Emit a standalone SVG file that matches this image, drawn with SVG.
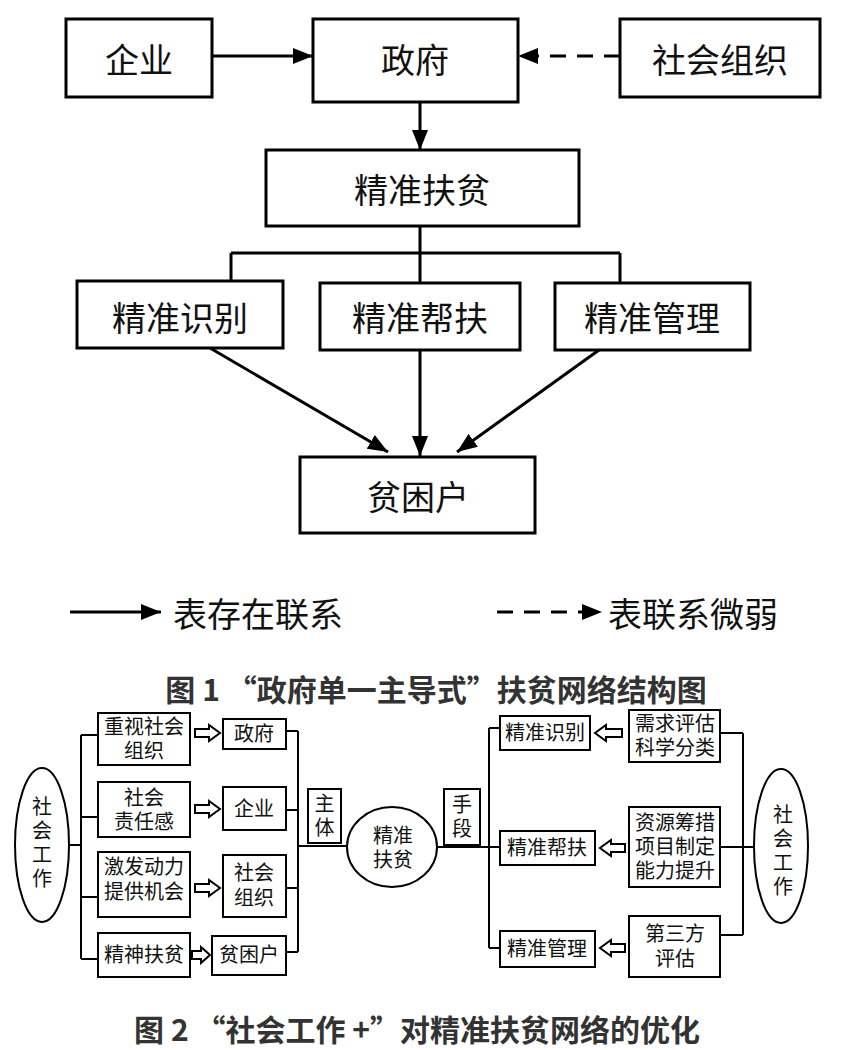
<svg xmlns="http://www.w3.org/2000/svg" width="846" height="1050" viewBox="0 0 846 1050">
<style>
.bg{fill:#fff}
.b1{fill:#fff;stroke:#000;stroke-width:3}
.b2{fill:#fff;stroke:#000;stroke-width:2}
.ln1{fill:none;stroke:#000;stroke-width:3}
.ln2{fill:none;stroke:#000;stroke-width:2}
.dash{stroke-dasharray:16 11}
.ha{fill:#fff;stroke:#000;stroke-width:2;stroke-linejoin:miter}
text{font-family:"Noto Sans CJK SC","Noto Sans CJK JP",sans-serif;fill:#111;dominant-baseline:central;text-anchor:middle}
.t1{font-size:34px}
.t2{font-size:20px;font-family:"Liberation Sans","Noto Sans CJK SC","Noto Sans CJK JP",sans-serif}
.lg{font-size:34px;text-anchor:start}
.cap{font-size:30px;font-weight:bold;fill:#333}
</style>
<defs>
<marker id="ah" viewBox="0 0 20 16" refX="20" refY="8" markerWidth="20" markerHeight="16" markerUnits="userSpaceOnUse" orient="auto">
<path d="M0,0 L20,8 L0,16 Z" fill="#000"/>
</marker>
</defs>
<rect class="bg" x="0" y="0" width="846" height="1050"/>

<!-- Figure 1 connectors -->
<g id="connectors-fig1">
<line class="ln1" x1="212" y1="56" x2="313" y2="56" marker-end="url(#ah)"/>
<line class="ln1 dash" x1="620" y1="56" x2="518" y2="56" marker-end="url(#ah)"/>
<line class="ln1" x1="420" y1="102" x2="420" y2="150" marker-end="url(#ah)"/>
<path class="ln1" d="M420,226 V253 M231,253 H620 M231,253 V281 M420,253 V283 M620,253 V283"/>
<line class="ln1" x1="210" y1="348" x2="388" y2="452" marker-end="url(#ah)"/>
<line class="ln1" x1="420" y1="350" x2="420" y2="456" marker-end="url(#ah)"/>
<line class="ln1" x1="599" y1="350" x2="457" y2="452" marker-end="url(#ah)"/>
</g>

<g id="n-qiye"><rect class="b1" x="66" y="19" width="146" height="78"/><text class="t1" x="139" y="58">企业</text></g>
<g id="n-zhengfu"><rect class="b1" x="313" y="19" width="205" height="83"/><text class="t1" x="415" y="58">政府</text></g>
<g id="n-shehuizuzhi"><rect class="b1" x="620" y="19" width="200" height="78"/><text class="t1" x="720" y="58">社会组织</text></g>
<g id="n-jzfp"><rect class="b1" x="266" y="150" width="313" height="76"/><text class="t1" x="422" y="188">精准扶贫</text></g>
<g id="n-jzsb"><rect class="b1" x="77" y="281" width="206" height="67"/><text class="t1" x="180" y="316">精准识别</text></g>
<g id="n-jzbf"><rect class="b1" x="320" y="283" width="200" height="67"/><text class="t1" x="420" y="316">精准帮扶</text></g>
<g id="n-jzgl"><rect class="b1" x="555" y="283" width="195" height="67"/><text class="t1" x="652" y="316">精准管理</text></g>
<g id="n-pkh"><rect class="b1" x="300" y="457" width="235" height="76"/><text class="t1" x="418" y="495">贫困户</text></g>

<!-- Legend -->
<g id="legend">
<line class="ln1" x1="70" y1="612" x2="161" y2="612" marker-end="url(#ah)"/>
<text class="lg" x="173" y="612">表存在联系</text>
<line class="ln1 dash" x1="497" y1="612" x2="602" y2="612" marker-end="url(#ah)"/>
<text class="lg" x="608" y="612">表联系微弱</text>
</g>

<text class="cap" x="436" y="688">图 1 “政府单一主导式”扶贫网络结构图</text>

<!-- Figure 2 connectors -->
<g id="connectors-fig2">
<path class="ln2" d="M69,845 H81 M81,735 V959 M81,735 H98 M81,817 H98 M81,897 H98 M81,959 H98"/>
<path class="ln2" d="M286,731 H298 M286,810 H298 M286,888 H298 M286,952 H298 M298,731 V952 M298,846 H347"/>
<path class="ln2" d="M437,847 H500 M489,728 V948 M489,728 H500 M489,948 H500"/>
<path class="ln2" d="M720,733 H743 M720,847 H754 M720,935 H743 M743,733 V935"/>
<path class="ha" d="M195,729 H209 V725 L220,733 L209,741 V737 H195 Z"/>
<path class="ha" d="M195,805 H209 V801 L220,809 L209,817 V813 H195 Z"/>
<path class="ha" d="M195,884 H209 V880 L220,888 L209,896 V892 H195 Z"/>
<path class="ha" d="M192,951 H201 V947 L210,955 L201,963 V959 H192 Z"/>
<path class="ha" d="M622,729 H606 V725 L595,733 L606,741 V737 H622 Z"/>
<path class="ha" d="M625,844 H611 V840 L600,848 L611,856 V852 H625 Z"/>
<path class="ha" d="M625,944 H611 V940 L600,948 L611,956 V952 H625 Z"/>
</g>

<g id="n2-shgz-left"><ellipse class="b2" cx="42" cy="845" rx="27" ry="77"/>
<text class="t2"><tspan x="42" y="807">社</tspan><tspan x="42" y="831">会</tspan><tspan x="42" y="855">工</tspan><tspan x="42" y="879">作</tspan></text></g>

<g id="n2-zssh"><rect class="b2" x="98" y="713" width="92" height="52"/><text class="t2"><tspan x="144" y="727">重视社会</tspan><tspan x="144" y="751">组织</tspan></text></g>
<g id="n2-shzrg"><rect class="b2" x="98" y="782" width="92" height="55"/><text class="t2"><tspan x="144" y="798">社会</tspan><tspan x="144" y="822">责任感</tspan></text></g>
<g id="n2-jfdl"><rect class="b2" x="98" y="852" width="92" height="65"/><text class="t2"><tspan x="144" y="867">激发动力</tspan><tspan x="144" y="892">提供机会</tspan></text></g>
<g id="n2-jsfp"><rect class="b2" x="98" y="933" width="92" height="44"/><text class="t2" x="144" y="955">精神扶贫</text></g>

<g id="n2-zf"><rect class="b2" x="223" y="719" width="63" height="30"/><text class="t2" x="254" y="734">政府</text></g>
<g id="n2-qy"><rect class="b2" x="223" y="787" width="63" height="43"/><text class="t2" x="254" y="809">企业</text></g>
<g id="n2-shzz"><rect class="b2" x="223" y="855" width="63" height="62"/><text class="t2"><tspan x="254" y="873">社会</tspan><tspan x="254" y="898">组织</tspan></text></g>
<g id="n2-pkh"><rect class="b2" x="212" y="936" width="74" height="39"/><text class="t2" x="249" y="955">贫困户</text></g>

<g id="n2-zt"><rect class="b2" x="308" y="789" width="33" height="54"/><text class="t2"><tspan x="324.5" y="804">主</tspan><tspan x="324.5" y="828">体</tspan></text></g>
<g id="n2-jzfp"><ellipse class="b2" cx="392" cy="847" rx="45" ry="40"/><text class="t2"><tspan x="393" y="836">精准</tspan><tspan x="393" y="860">扶贫</tspan></text></g>
<g id="n2-sd"><rect class="b2" x="444" y="789" width="36" height="56"/><text class="t2"><tspan x="462" y="805">手</tspan><tspan x="462" y="829">段</tspan></text></g>

<g id="n2-jzsb"><rect class="b2" x="500" y="716" width="90" height="34"/><text class="t2" x="545" y="733">精准识别</text></g>
<g id="n2-jzbf"><rect class="b2" x="500" y="831" width="95" height="34"/><text class="t2" x="547" y="848">精准帮扶</text></g>
<g id="n2-jzgl"><rect class="b2" x="500" y="931" width="95" height="36"/><text class="t2" x="547" y="949">精准管理</text></g>

<g id="n2-xqpg"><rect class="b2" x="629" y="710" width="91" height="52"/><text class="t2"><tspan x="675" y="724">需求评估</tspan><tspan x="675" y="748">科学分类</tspan></text></g>
<g id="n2-zycc"><rect class="b2" x="629" y="807" width="91" height="80"/><text class="t2"><tspan x="675" y="823">资源筹措</tspan><tspan x="675" y="847">项目制定</tspan><tspan x="675" y="871">能力提升</tspan></text></g>
<g id="n2-dsf"><rect class="b2" x="629" y="916" width="91" height="61"/><text class="t2"><tspan x="675" y="934">第三方</tspan><tspan x="675" y="959">评估</tspan></text></g>

<g id="n2-shgz-right"><ellipse class="b2" cx="781" cy="846" rx="27" ry="77"/>
<text class="t2"><tspan x="783" y="815">社</tspan><tspan x="783" y="839">会</tspan><tspan x="783" y="863">工</tspan><tspan x="783" y="887">作</tspan></text></g>

<text class="cap" x="417" y="1028">图 2 “社会工作 +”对精准扶贫网络的优化</text>
</svg>
